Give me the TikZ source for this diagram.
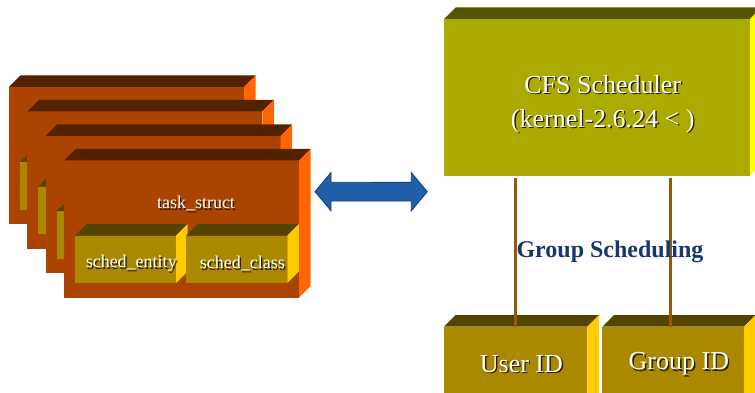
\documentclass[tikz,border=0pt]{standalone}
\usepackage{fontspec}
\setmainfont{Liberation Serif}

\definecolor{cardfront}{RGB}{170,68,0}
\definecolor{cardtop}{RGB}{85,34,0}
\definecolor{cardside}{RGB}{255,102,0}
\definecolor{goldfront}{RGB}{170,136,0}
\definecolor{goldtop}{RGB}{85,68,0}
\definecolor{goldside}{RGB}{255,204,0}
\definecolor{olivefront}{RGB}{170,170,0}
\definecolor{olivetop}{RGB}{85,85,0}
\definecolor{oliveside}{RGB}{255,255,0}
\definecolor{linkbrown}{RGB}{150,88,10}
\definecolor{navytext}{RGB}{23,55,110}
\definecolor{arrowblue}{RGB}{32,96,168}
\definecolor{arrowedge}{RGB}{20,60,120}
\definecolor{textshade}{RGB}{40,30,10}

% white lettering with a soft dark drop shadow
\newcommand\shadowed[1]{\makebox[0pt][l]{\kern1.4pt\raisebox{-1.4pt}{\color{textshade}#1}}{\color{white}#1}}

% depth of the 3-D boxes
\newcommand\boxdepth{11.5}
% top and right faces of a box whose front face is node #1
\newcommand\cubeparts[3]{%
  \fill[#2] (#1.north west) -- ++(\boxdepth,-\boxdepth)
     -- ([shift={(\boxdepth,-\boxdepth)}]#1.north east) -- (#1.north east) -- cycle;
  \fill[#3] (#1.north east) -- ++(\boxdepth,-\boxdepth)
     -- ([shift={(\boxdepth,-\boxdepth)}]#1.south east) -- (#1.south east) -- cycle;}

\begin{document}
\begin{tikzpicture}[x=1pt,y=-1pt,
  face/.style={inner sep=0pt, outer sep=0pt, anchor=north west},
  lbl/.style={inner sep=0pt, font=\fontsize{18}{22}\selectfont},
  biglbl/.style={inner sep=0pt, align=center, font=\fontsize{26}{34}\selectfont},
  link/.style={linkbrown, line width=3.4pt},
]
\useasboundingbox (0,0) rectangle (755,393);
\clip (0,0) rectangle (755,393);

% stack of task_struct boxes, back to front
\foreach \i/\x/\y in {1/9/87, 2/27.33/111.5, 3/45.67/136, 4/64/160.5}{
  \node[face, fill=cardfront, minimum width=235pt, minimum height=137pt] (card\i) at (\x,\y) {};
  \cubeparts{card\i}{cardtop}{cardside}
  \node[face, fill=goldfront, minimum width=101pt, minimum height=47.5pt] (ent\i)
     at ([shift={(11,75)}]card\i.north west) {};
  \cubeparts{ent\i}{goldtop}{goldside}
  \node[face, fill=goldfront, minimum width=101.3pt, minimum height=47.5pt] (cls\i)
     at ([shift={(122,75)}]card\i.north west) {};
  \cubeparts{cls\i}{goldtop}{goldside}
}
\node[lbl] (tslabel) at ([shift={(132,44)}]card4.north west) {\shadowed{task\_struct}};
\node[lbl] (entlabel) at ([shift={(5.75,5)}]ent4.center) {\shadowed{sched\_entity}};
\node[lbl] (clslabel) at ([shift={(5.75,5)}]cls4.center) {\shadowed{sched\_class}};

% CFS scheduler box
\node[face, fill=olivefront, minimum width=306pt, minimum height=156.7pt] (cfs) at (444,19) {};
\cubeparts{cfs}{olivetop}{oliveside}
\node[biglbl] (cfslabel) at (602.7,104.5) {\shadowed{CFS Scheduler}\\\shadowed{(kernel-2.6.24 < )}};

% user / group id boxes
\node[face, fill=goldfront, minimum width=143.3pt, minimum height=80pt] (user) at (444,326.7) {};
\cubeparts{user}{goldtop}{goldside}
\node[face, fill=goldfront, minimum width=141.7pt, minimum height=80pt] (group) at (602.3,326.7) {};
\cubeparts{group}{goldtop}{goldside}
\node[biglbl] (userlabel) at ([shift={(5.75,0)}]user.north |- 0,364.5) {\shadowed{User ID}};
\node[biglbl] (grouplabel) at ([shift={(5.75,0)}]group.north |- 0,364.5) {\shadowed{Group ID}};

% links from the scheduler down to the id boxes
\coordinate (uin) at ([xshift=-0.3pt]user.north);
\coordinate (gin) at ([xshift=-2.4pt]group.north);
\draw[link] ([yshift=-2pt]cfs.south -| uin) -- (uin);
\draw[link] ([yshift=-2pt]cfs.south -| gin) -- (gin);

\node[inner sep=0pt, text=navytext, font=\bfseries\fontsize{24}{28}\selectfont] (grp) at (610,252) {Group Scheduling};

% two-way block arrow between the task stack and the scheduler
\coordinate (al) at (315,191.7);
\coordinate (ar) at (427.3,191.7);
\filldraw[fill=arrowblue, draw=arrowedge, line width=0.8pt, line join=miter]
  (al) -- ++(16,-19.2) -- ++(0,9.8) -- ([shift={(-16,-9.3)}]ar) -- ++(0,-9.8)
  -- (ar) -- ++(-16,19.2) -- ++(0,-9.8) -- ([shift={(16,9.3)}]al) -- ++(0,9.8) -- cycle;
\end{tikzpicture}
\end{document}
